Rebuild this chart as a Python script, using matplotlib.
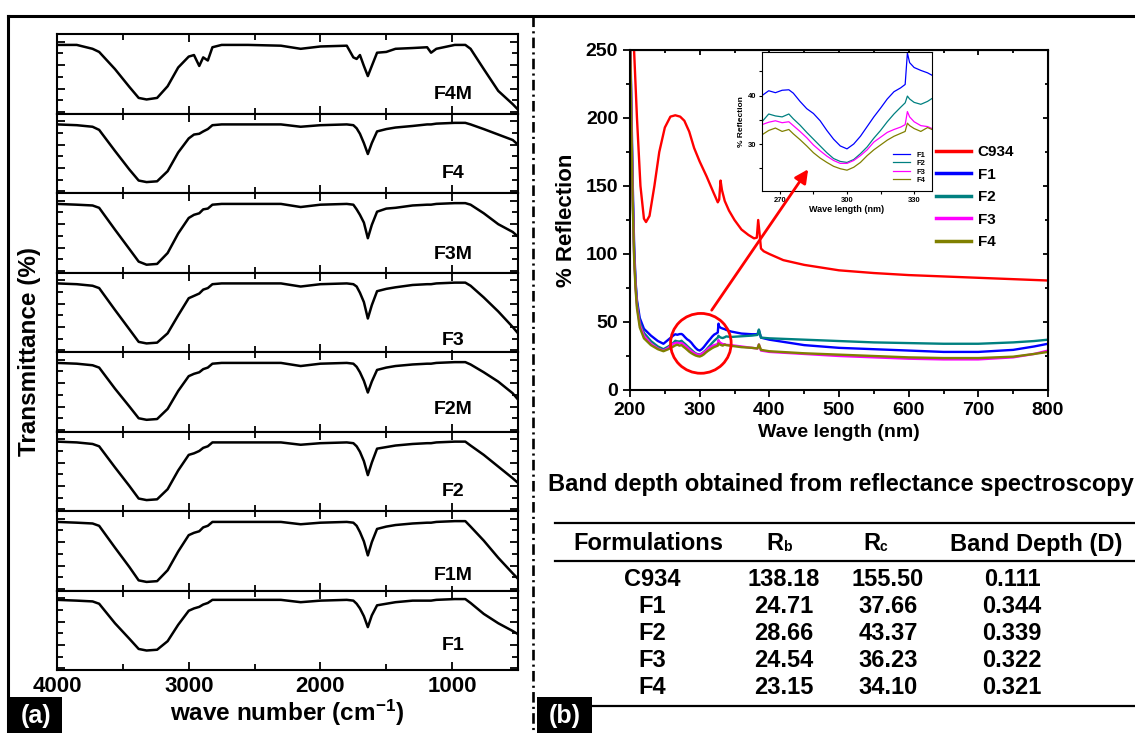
import matplotlib
matplotlib.use("Agg")
import matplotlib.pyplot as plt
from matplotlib.lines import Line2D
from matplotlib.patches import Ellipse, FancyArrowPatch, Rectangle
from matplotlib.ticker import MultipleLocator

plt.rcParams['font.family'] = ['Liberation Sans', 'DejaVu Sans']
plt.rcParams['font.weight'] = 'bold'
plt.rcParams['mathtext.default'] = 'regular'

W, H = 1135, 733

# ---- (a) FTIR spectra, normalised transmittance per panel ----
wn = [4000, 3850, 3730, 3680, 3560, 3450, 3380, 3320, 3240, 3160, 3080, 3000,
      2960, 2920, 2890, 2855, 2820, 2750, 2550, 2300, 2150, 2000, 1800, 1750,
      1725, 1700, 1670, 1640, 1610, 1570, 1500, 1430, 1300, 1190, 1160, 1120,
      980, 900, 860, 760, 650, 540, 500]
t_F4M = [.86, .86, .81, .77, .55, .32, .18, .16, .18, .33, .57, .71, .73, .59, .70,
         .66, .83, .86, .86, .85, .81, .84, .85, .70, .68, .73, .59, .46, .59, .76,
         .77, .81, .82, .83, .76, .81, .86, .86, .81, .55, .27, .10, .03]
t_F4 = [.86, .85, .83, .79, .52, .28, .14, .12, .13, .26, .50, .68, .73, .74, .77,
        .80, .85, .86, .86, .86, .83, .85, .86, .85, .81, .74, .62, .48, .62, .77,
        .80, .82, .84, .86, .86, .87, .88, .88, .86, .80, .73, .66, .60]
t_F3M = [.86, .85, .84, .81, .53, .28, .12, .08, .09, .23, .48, .68, .72, .74, .79,
         .80, .85, .86, .86, .86, .82, .85, .86, .85, .79, .72, .62, .42, .59, .76,
         .80, .81, .84, .85, .85, .86, .87, .87, .85, .74, .60, .50, .44]
t_F3 = [.86, .85, .83, .80, .52, .27, .11, .09, .10, .22, .45, .67, .70, .73, .78,
        .80, .85, .86, .86, .86, .82, .85, .86, .85, .82, .74, .62, .41, .58, .76,
        .79, .81, .84, .85, .85, .86, .87, .87, .83, .68, .50, .30, .22]
t_F2M = [.86, .85, .83, .80, .53, .30, .15, .13, .14, .27, .50, .69, .72, .74, .78,
         .80, .85, .86, .86, .86, .82, .85, .86, .85, .81, .74, .63, .48, .62, .77,
         .80, .82, .84, .85, .85, .86, .87, .87, .84, .74, .62, .47, .39]
t_F2 = [.87, .86, .84, .81, .54, .30, .14, .12, .13, .26, .50, .70, .72, .75, .79,
        .81, .86, .86, .86, .86, .83, .85, .86, .85, .81, .74, .62, .44, .60, .78,
        .80, .82, .84, .85, .85, .86, .87, .87, .82, .70, .55, .40, .34]
t_F1M = [.86, .85, .84, .81, .53, .28, .11, .09, .10, .24, .48, .69, .72, .74, .79,
         .81, .86, .86, .86, .86, .83, .85, .86, .85, .81, .73, .61, .43, .60, .77,
         .80, .82, .84, .85, .85, .86, .87, .87, .80, .62, .40, .20, .13]
t_F1 = [.88, .87, .86, .83, .58, .38, .25, .23, .24, .35, .56, .74, .77, .79, .82,
        .84, .88, .88, .88, .88, .85, .87, .88, .87, .83, .77, .67, .53, .68, .81,
        .83, .85, .87, .87, .87, .88, .89, .89, .84, .70, .58, .48, .44]
ftir = [("F4M", t_F4M), ("F4", t_F4), ("F3M", t_F3M), ("F3", t_F3),
        ("F2M", t_F2M), ("F2", t_F2), ("F1M", t_F1M), ("F1", t_F1)]
label_y = [0.22, 0.23, 0.21, 0.13, 0.26, 0.23, 0.17, 0.30]

# ---- (b) reflectance spectra ----
wl = [200, 202, 204, 206, 208, 210, 214, 220, 230, 240, 248, 255, 262, 265, 268,
      271, 274, 276, 279, 282, 285, 288, 291, 294, 297, 300, 303, 306, 309, 312,
      315, 318, 321, 324, 326, 327, 328, 330, 333, 336, 338, 345, 360, 375, 383,
      385, 388, 400, 450, 500, 550, 600, 650, 700, 750, 780, 800]
r_F1 = [270, 210, 150, 105, 80, 66, 53, 45, 40, 36, 34, 37, 40.0, 41.0, 40.6,
        41.1, 41.2, 40.5, 38.8, 37.3, 36.3, 34.8, 32.8, 31.0, 29.6, 29.0, 30.0, 31.6, 33.6, 35.6,
        37.4, 39.3, 40.8, 41.6, 42.3, 48.8, 46.8, 45.8, 45.2, 44.7, 44.2, 43, 41.5, 41, 41,
        44, 38.5, 37, 33, 31, 30, 29, 28, 28, 29.5, 32, 34]
r_F2 = [270, 200, 140, 100, 78, 64, 50, 42, 36, 32, 30, 32, 34.6, 36.2, 35.8,
        35.6, 36.2, 35.2, 33.9, 32.4, 31.0, 29.6, 28.2, 27.0, 26.4, 26.2, 26.8, 28.0, 29.4, 31.2,
        32.8, 34.6, 36.2, 37.6, 38.5, 39.9, 39.3, 38.6, 38.2, 38.8, 39.4, 39, 39.5, 40, 40.5,
        44.5, 38.5, 38, 37, 36, 35, 34.5, 34, 34, 35, 36, 37]
r_F3 = [270, 200, 140, 98, 76, 62, 48, 40, 34, 30.5, 29, 31, 34.0, 34.5, 34.8,
        34.4, 34.6, 33.8, 32.6, 31.3, 29.8, 28.6, 27.5, 26.6, 26.0, 26.0, 26.6, 27.6, 28.8, 30.4,
        31.4, 32.4, 33.0, 33.5, 34.0, 36.7, 35.6, 34.6, 33.8, 33.6, 33.2, 33, 32, 31, 30.5,
        33.5, 29, 28, 26.5, 25, 24, 23, 22.5, 22.5, 24, 26.5, 29]
r_F4 = [270, 195, 135, 95, 74, 60, 46, 38, 33, 30, 28.5, 30, 31.9, 32.8, 33.3,
        32.6, 33.0, 32.1, 30.9, 29.6, 28.2, 27.1, 26.2, 25.4, 24.9, 24.6, 25.2, 26.2, 27.6, 28.8,
        29.8, 30.8, 31.6, 32.2, 32.6, 34.3, 33.8, 33.2, 32.6, 33.4, 33.0, 32.5, 31.5, 31, 30.5,
        33.5, 29.5, 28.5, 27, 26, 25, 24, 23.5, 23.5, 24.5, 26.5, 28]
wl_c = [200, 205, 210, 215, 220, 223, 228, 235, 242, 250, 258, 265, 272, 278, 285,
        292, 300, 310, 320, 326, 328, 330, 332, 336, 342, 350, 360, 370, 378, 382,
        384, 386, 388, 392, 400, 420, 450, 500, 550, 600, 650, 700, 750, 800]
r_C934 = [400, 260, 200, 150, 126, 123.5, 128, 150, 175, 193, 201, 202, 201, 198, 190,
          178, 168, 157, 145, 138, 140, 154, 147, 139, 132, 125, 118, 114, 111.5, 112,
          125, 115, 104, 102, 100, 95.5, 92, 88, 86, 84.5, 83.5, 82.5, 81.5, 80.5]
series = [("C934", wl_c, r_C934, "#ff0000"), ("F1", wl, r_F1, "#0000ff"),
          ("F2", wl, r_F2, "#008080"), ("F3", wl, r_F3, "#ff00ff"),
          ("F4", wl, r_F4, "#808000")]

# ---- table ----
tab_head = ["Formulations", "R", "R", "Band Depth (D)"]
tab_names = ["C934", "F1", "F2", "F3", "F4"]
tab_rb = ["138.18", "24.71", "28.66", "24.54", "23.15"]
tab_rc = ["155.50", "37.66", "43.37", "36.23", "34.10"]
tab_d = ["0.111", "0.344", "0.339", "0.322", "0.321"]


def box(x0, y0, x1, y1):
    return [x0 / W, 1 - y1 / H, (x1 - x0) / W, (y1 - y0) / H]


def fx(x):
    return x / W


def fy(y):
    return 1 - y / H


fig = plt.figure(figsize=(W / 100, H / 100), dpi=100)

# ---------------- panel (a) ----------------
top, bot = 34, 670
ph = (bot - top) / len(ftir)
for i, (name, vals) in enumerate(ftir):
    ax = fig.add_axes(box(57, top + i * ph, 518, top + (i + 1) * ph))
    ax.plot(wn, vals, color="black", lw=1.8)
    ax.set_xlim(4000, 500)
    ax.set_ylim(-0.02, 1.0)
    ax.xaxis.set_major_locator(MultipleLocator(1000))
    ax.xaxis.set_minor_locator(MultipleLocator(500))
    ax.yaxis.set_major_locator(MultipleLocator(0.3))
    ax.yaxis.set_minor_locator(MultipleLocator(0.15))
    ax.tick_params(which="both", direction="in", top=True, right=True,
                   labelleft=False, labelbottom=(i == len(ftir) - 1),
                   width=1.3, labelsize=16, pad=4)
    ax.tick_params(which="major", length=6)
    ax.tick_params(which="minor", length=4)
    for s in ax.spines.values():
        s.set_linewidth(1.5)
    ax.text(990, label_y[i], name, ha="center", va="center", fontsize=14,
            fontweight="bold", bbox=dict(fc="white", ec="none", pad=1))
    if i == len(ftir) - 1:
        ax.set_xlabel("wave number (cm$^{-1}$)", fontsize=17.5,
                      fontweight="bold", labelpad=1)
fig.text(fx(30), fy(352), "Transmittance (%)", rotation=90, ha="center",
         va="center", fontsize=17.5, fontweight="bold")

# ---------------- panel (b) main ----------------
axm = fig.add_axes(box(630, 50, 1048, 390))
for name, x, y, c in series:
    axm.plot(x, y, color=c, lw=1.7, label=name)
axm.set_xlim(200, 800)
axm.set_ylim(0, 250)
axm.xaxis.set_major_locator(MultipleLocator(100))
axm.xaxis.set_minor_locator(MultipleLocator(50))
axm.yaxis.set_major_locator(MultipleLocator(50))
axm.yaxis.set_minor_locator(MultipleLocator(25))
axm.tick_params(which="both", direction="out", labelsize=14, width=1.3)
axm.tick_params(which="major", length=5)
axm.tick_params(which="minor", length=3)
for s in axm.spines.values():
    s.set_linewidth(1.5)
sec_x = axm.secondary_xaxis("top")
sec_x.xaxis.set_major_locator(MultipleLocator(100))
sec_x.xaxis.set_minor_locator(MultipleLocator(50))
sec_x.tick_params(which="both", direction="in", labeltop=False, width=1.3)
sec_y = axm.secondary_yaxis("right")
sec_y.yaxis.set_major_locator(MultipleLocator(50))
sec_y.yaxis.set_minor_locator(MultipleLocator(25))
sec_y.tick_params(which="both", direction="in", labelright=False, width=1.3)
axm.set_xlabel("Wave length (nm)", fontsize=14, fontweight="bold", labelpad=4)
axm.set_ylabel("% Reflection", fontsize=16, fontweight="bold", labelpad=6)
axm.legend(loc="upper left", bbox_to_anchor=(0.7, 0.76), frameon=False,
           handlelength=2.3, handletextpad=0.4, labelspacing=0.55,
           prop=dict(weight="bold", size=11))
for ln in axm.get_legend().get_lines():
    ln.set_linewidth(2.5)
axm.add_patch(Ellipse((301.7, 34.3), 87, 44, fill=False, ec="#ff0000", lw=2,
                      zorder=5))
fig.add_artist(FancyArrowPatch((315, 57), (458, 164), transform=axm.transData,
                               arrowstyle="-|>", mutation_scale=20,
                               color="#ff0000", lw=2, zorder=10))

# ---------------- inset ----------------
axi = fig.add_axes(box(762, 52, 932, 191))
for name, x, y, c in series[1:]:
    axi.plot(x, y, color=c, lw=0.9, label=name)
axi.set_xlim(262, 338)
axi.set_ylim(20.3, 49)
axi.xaxis.set_major_locator(MultipleLocator(30))
axi.xaxis.set_minor_locator(MultipleLocator(15))
axi.yaxis.set_major_locator(MultipleLocator(10))
axi.yaxis.set_minor_locator(MultipleLocator(5))
axi.tick_params(which="both", labelsize=5.5, width=0.8, length=2.5, pad=1.5)
axi.set_xlabel("Wave length (nm)", fontsize=6.5, fontweight="bold", labelpad=1)
axi.set_ylabel("% Reflection", fontsize=6, fontweight="bold", labelpad=2)
axi.legend(loc="lower right", frameon=False, handlelength=2.2,
           labelspacing=0.15, prop=dict(weight="bold", size=5.5))

# ---------------- table ----------------
fig.text(fx(548), fy(485), "Band depth obtained from reflectance spectroscopy",
         ha="left", va="center", fontsize=17, fontweight="bold")
for yl in (523, 561, 706):
    fig.add_artist(Line2D([fx(555), 1.0], [fy(yl), fy(yl)], color="black",
                          lw=1.6))
cols = [648, 783, 880, 1036]
hy = 544
fig.text(fx(cols[0]), fy(hy), tab_head[0], ha="center", va="center",
         fontsize=17, fontweight="bold")
fig.text(fx(cols[1]), fy(hy), tab_head[1], ha="right", va="center",
         fontsize=17, fontweight="bold")
fig.text(fx(cols[1]), fy(hy + 3), "b", ha="left", va="center", fontsize=10,
         fontweight="bold")
fig.text(fx(cols[2]), fy(hy), tab_head[2], ha="right", va="center",
         fontsize=17, fontweight="bold")
fig.text(fx(cols[2]), fy(hy + 3), "c", ha="left", va="center", fontsize=10,
         fontweight="bold")
fig.text(fx(cols[3]), fy(hy), tab_head[3], ha="center", va="center",
         fontsize=17, fontweight="bold")
vcols = [652, 784, 888, 1012]
for k in range(len(tab_names)):
    ry = 579 + k * 27.2
    for cx, txt in zip(vcols, (tab_names[k], tab_rb[k], tab_rc[k], tab_d[k])):
        fig.text(fx(cx), fy(ry), txt, ha="center", va="center", fontsize=17,
                 fontweight="bold")

# ---------------- frame, divider, labels ----------------
fig.add_artist(Line2D([fx(8), 1.0], [fy(16), fy(16)], color="black", lw=2.2))
fig.add_artist(Line2D([fx(8), fx(8)], [fy(16), 0], color="black", lw=2.2))
fig.add_artist(Line2D([fx(533), fx(533)], [fy(16), 0], color="black", lw=1.9,
                      dashes=(4, 1.6, 0.8, 1.6)))
for x0, x1, lab in ((10, 62, "(a)"), (537, 592, "(b)")):
    fig.add_artist(Rectangle((fx(x0), 0), fx(x1 - x0), fy(H - 36),
                             transform=fig.transFigure, fc="black", ec="none"))
    fig.text(fx((x0 + x1) / 2), fy(716), lab, color="white", ha="center",
             va="center", fontsize=18, fontweight="bold")

fig.savefig("out.png", dpi=100)
